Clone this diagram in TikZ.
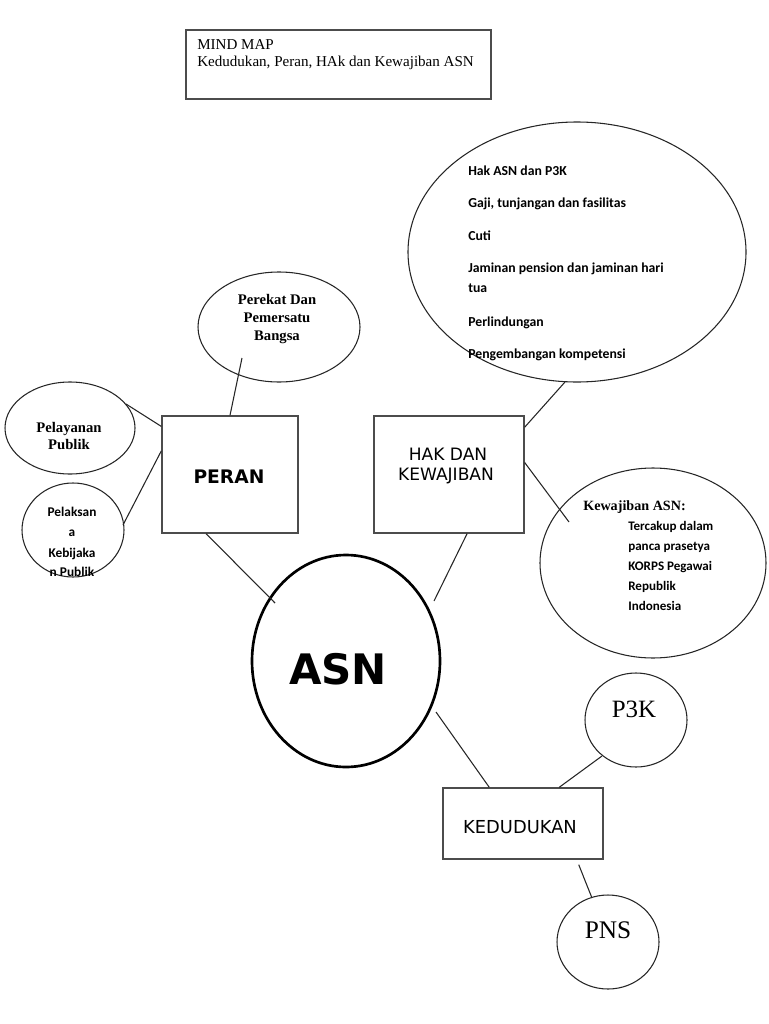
\documentclass[tikz,border=0pt]{standalone}
\usepackage{fontspec}
\setmainfont{Liberation Serif}
\newfontfamily\calfont{Carlito}
\newfontfamily\dvfont{DejaVu Sans}
\usetikzlibrary{shapes.geometric}
\begin{document}
\begin{tikzpicture}[x=0.75pt,y=-0.75pt,
  conn/.style={draw=black!85, line width=0.8pt},
  boxn/.style={draw=black!70, line width=1pt, rectangle, inner sep=0pt},
  ell/.style={draw=black!85, line width=0.8pt, ellipse, inner sep=0pt},
  txt/.style={inner sep=0pt, anchor=base west},
  ctxt/.style={inner sep=0pt, anchor=base},
  hakf/.style={font=\calfont\bfseries\fontsize{10.3}{12}\selectfont},
  kewf/.style={font=\calfont\bfseries\fontsize{9.8}{12}\selectfont},
  serb/.style={font=\bfseries\fontsize{11}{13}\selectfont},
]
\useasboundingbox (0,0) rectangle (768,1024);

% title
\node[boxn, minimum width=228.75pt, minimum height=51.75pt] (title) at (338.5,64.5) {};
\node[txt, font=\fontsize{11.3}{13}\selectfont] (t1) at (197,50) {MIND MAP};
\node[txt, font=\fontsize{11.3}{13}\selectfont] (t2) at (197,67) {Kedudukan, Peran, HAk dan Kewajiban ASN};

% boxes
\node[boxn, minimum width=102pt, minimum height=87.75pt] (peran) at (230,474.5) {};
\node[boxn, minimum width=112.5pt, minimum height=87.75pt] (hak) at (449,474.5) {};
\node[boxn, minimum width=120pt, minimum height=53.25pt] (ked) at (523,823.5) {};

% ellipses
\node[ell, minimum width=253.5pt, minimum height=195pt] (hakE) at (577,252) {};
\node[ell, minimum width=169.5pt, minimum height=142.5pt] (kewE) at (653,563) {};
\node[ell, minimum width=121.5pt, minimum height=82.5pt] (perE) at (279,327) {};
\node[ell, minimum width=97.5pt, minimum height=69pt] (pelE) at (70,428) {};
\node[ell, minimum width=76.5pt, minimum height=70.5pt] (pksE) at (73,530) {};
\node[ell, draw=black, line width=2pt, minimum width=141pt, minimum height=159pt] (asn) at (346,661) {};
\node[ell, minimum width=76.5pt, minimum height=70.5pt] (p3kE) at (636,720) {};
\node[ell, minimum width=76.5pt, minimum height=70.5pt] (pnsE) at (608,942) {};

% connector free ends
\coordinate (cHak) at (565,382);
\coordinate (cKew) at (569,522);
\coordinate (cPer) at (242,358);
\coordinate (cPel) at (126,404);
\coordinate (cPks) at (123,525);
\coordinate (cAsnL) at (275,603);
\coordinate (cAsnR) at (434,601);
\coordinate (cAsnB) at (436,712);
\coordinate (cP3k) at (602,756);
\coordinate (cPns) at (592,898);

% connectors
\draw[conn] (hak.32) -- (cHak);
\draw[conn] (hak.9.5) -- (cKew);
\draw[conn] (peran.north) -- (cPer);
\draw[conn] (peran.145.6) -- (cPel);
\draw[conn] (peran.161.7) -- (cPks);
\draw[conn] (peran.248.5) -- (cAsnL);
\draw[conn] (hak.287.1) -- (cAsnR);
\draw[conn] (ked.133.8) -- (cAsnB);
\draw[conn] (ked.45.4) -- (cP3k);
\draw[conn] ([yshift=-3.75pt]ked.327.6) -- (cPns);

% box texts
\node[ctxt, font=\dvfont\bfseries\fontsize{14}{16}\selectfont] (peranT) at (229,483) {PERAN};
\node[ctxt, font=\dvfont\fontsize{12.8}{15}\selectfont] (hakT1) at (448,460) {HAK DAN};
\node[ctxt, font=\dvfont\fontsize{12.8}{15}\selectfont] (hakT2) at (446,480) {KEWAJIBAN};
\node[ctxt, font=\dvfont\fontsize{13.4}{15}\selectfont] (kedT) at (520,833) {KEDUDUKAN};
\node[ctxt, font=\dvfont\bfseries\fontsize{31.5}{34}\selectfont] (asnT) at (338,684) {ASN};

% hak list
\node[txt, hakf] (h1) at (468,175) {Hak ASN dan P3K};
\node[txt, hakf] (h2) at (468,207) {Gaji, tunjangan dan fasilitas};
\node[txt, hakf] (h3) at (468,240) {Cuti};
\node[txt, hakf] (h4) at (468,272) {Jaminan pension dan jaminan hari};
\node[txt, hakf] (h5) at (468,292) {tua};
\node[txt, hakf] (h6) at (468,326) {Perlindungan};
\node[txt, hakf] (h7) at (468,358) {Pengembangan kompetensi};

% kewajiban
\node[txt, font=\bfseries\fontsize{10.6}{13}\selectfont] (k0) at (583,510) {Kewajiban ASN:};
\node[txt, kewf] (k1) at (628,530) {Tercakup dalam};
\node[txt, kewf] (k2) at (628,550) {panca prasetya};
\node[txt, kewf] (k3) at (628,570) {KORPS Pegawai};
\node[txt, kewf] (k4) at (628,590) {Republik};
\node[txt, kewf] (k5) at (628,610) {Indonesia};

% perekat
\node[ctxt, serb] (p1) at (277,304) {Perekat Dan};
\node[ctxt, serb] (p2) at (277,322) {Pemersatu};
\node[ctxt, serb] (p3) at (277,340) {Bangsa};

% pelayanan
\node[ctxt, serb] (l1) at (69,432) {Pelayanan};
\node[ctxt, serb] (l2) at (69,449) {Publik};

% pelaksana
\node[ctxt, font=\calfont\bfseries\fontsize{10}{12}\selectfont] (s1) at (72,516) {Pelaksan};
\node[ctxt, font=\calfont\bfseries\fontsize{10}{12}\selectfont] (s2) at (72,536) {a};
\node[ctxt, font=\calfont\bfseries\fontsize{10}{12}\selectfont] (s3) at (72,557) {Kebijaka};
\node[ctxt, font=\calfont\bfseries\fontsize{10}{12}\selectfont] (s4) at (72,576) {n Publik};

% p3k, pns
\node[ctxt, font=\fontsize{18.7}{21}\selectfont] (p3kT) at (634,717) {P3K};
\node[ctxt, font=\fontsize{19}{21}\selectfont] (pnsT) at (608,938) {PNS};
\end{tikzpicture}
\end{document}
